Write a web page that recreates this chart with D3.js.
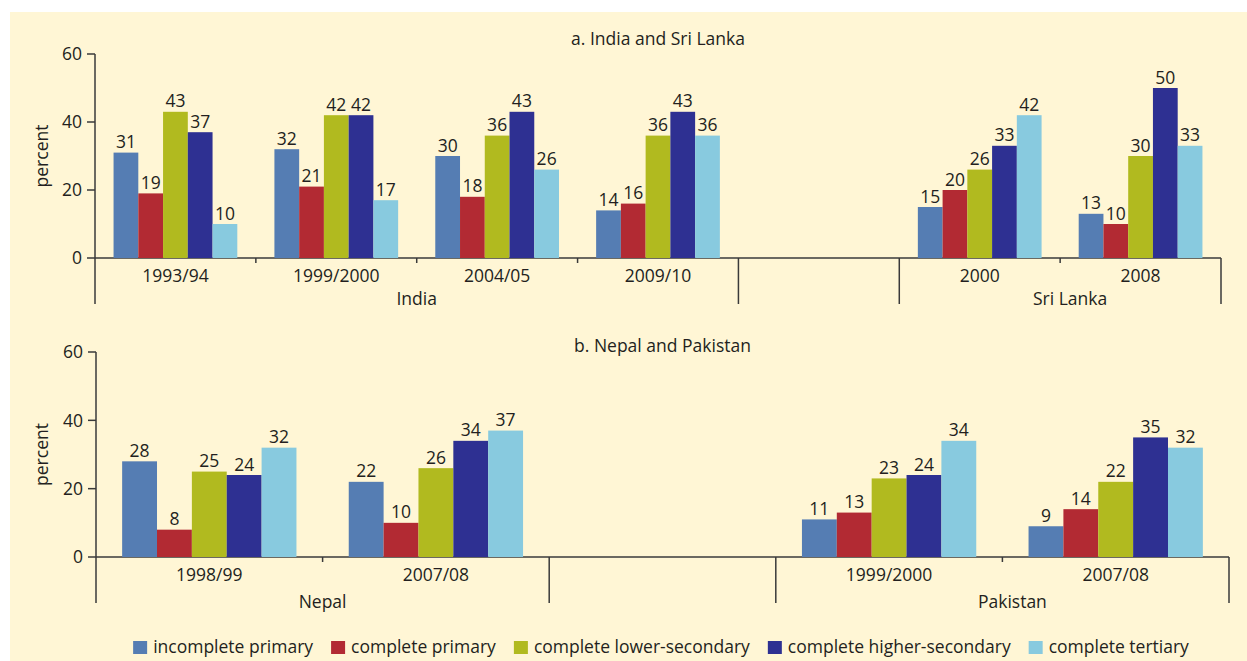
<!DOCTYPE html>
<html>
<head>
<meta charset="utf-8">
<script src="https://cdn.jsdelivr.net/npm/d3@7"></script>
<style>
  body { margin: 0; background: white; }
  text { font-family: "Open Sans", sans-serif; fill: #231F20; }
</style>
</head>
<body>
<svg id="chart" width="1247" height="661"></svg>
<script>
const series = ['incomplete primary', 'complete primary', 'complete lower-secondary', 'complete higher-secondary', 'complete tertiary']
const colors = ['#557DB3', '#B22A33', '#B1BA1F', '#2E3092', '#88CADF']
const yTicks = [0, 20, 40, 60]

const indiaYears = ['1993/94', '1999/2000', '2004/05', '2009/10']
const indiaValues = [[31, 19, 43, 37, 10], [32, 21, 42, 42, 17], [30, 18, 36, 43, 26], [14, 16, 36, 43, 36]]
const sriLankaYears = ['2000', '2008']
const sriLankaValues = [[15, 20, 26, 33, 42], [13, 10, 30, 50, 33]]

const nepalYears = ['1998/99', '2007/08']
const nepalValues = [[28, 8, 25, 24, 32], [22, 10, 26, 34, 37]]
const pakistanYears = ['1999/2000', '2007/08']
const pakistanValues = [[11, 13, 23, 24, 34], [9, 14, 22, 35, 32]]

const svg = d3.select('#chart')
svg.append('rect')
  .attr('x', 10).attr('y', 12)
  .attr('width', 1237).attr('height', 649)
  .attr('fill', '#FFF6D5')

const ink = '#3a3a3a'
const fs = '17.5px'

function drawPanel(opt) {
  let left = opt.countries[0], right = opt.countries[1]
  let slots = left.years.map(y => left.name + '|' + y)
    .concat(['gap'])
    .concat(right.years.map(y => right.name + '|' + y))
  let x0 = d3.scaleBand().domain(slots).range(opt.xRange)
  let x1 = d3.scaleBand().domain(series).range([0, x0.bandwidth()]).paddingOuter(0.75)
  let y = d3.scaleLinear().domain([0, 60]).range(opt.yRange)
  let g = svg.append('g')
  let y0 = y(0)

  // y axis
  g.append('line')
    .attr('x1', opt.xRange[0]).attr('x2', opt.xRange[0])
    .attr('y1', y(60)).attr('y2', y0 + opt.sepLen)
    .attr('stroke', ink).attr('stroke-width', 1.5)
  g.selectAll('.ytick')
    .data(yTicks)
    .join('line')
    .attr('x1', opt.xRange[0] - 8).attr('x2', opt.xRange[0])
    .attr('y1', d => y(d)).attr('y2', d => y(d))
    .attr('stroke', ink).attr('stroke-width', 1.5)
  g.selectAll('.ylab')
    .data(yTicks)
    .join('text')
    .attr('x', opt.xRange[0] - 13)
    .attr('y', d => y(d))
    .attr('dy', '0.36em')
    .attr('text-anchor', 'end')
    .style('font-size', fs)
    .text(d => d)
  g.append('text')
    .attr('transform', `translate(48, ${(y(0) + y(60)) / 2}) rotate(-90)`)
    .attr('text-anchor', 'middle')
    .style('font-size', fs)
    .text('percent')

  // x axis baseline
  g.append('line')
    .attr('x1', opt.xRange[0]).attr('x2', opt.xRange[1])
    .attr('y1', y0).attr('y2', y0)
    .attr('stroke', ink).attr('stroke-width', 1.5)

  // separators: long ones around countries, short ones between years
  let gapX = x0('gap')
  let longs = [gapX, gapX + x0.bandwidth(), opt.xRange[1]]
  g.selectAll('.sep')
    .data(longs)
    .join('line')
    .attr('x1', d => d).attr('x2', d => d)
    .attr('y1', y0).attr('y2', y0 + opt.sepLen)
    .attr('stroke', ink).attr('stroke-width', 1.5)
  let shorts = slots.filter((s, i) => i > 0 && s != 'gap' && slots[i - 1] != 'gap').map(s => x0(s))
  g.selectAll('.short')
    .data(shorts)
    .join('line')
    .attr('x1', d => d).attr('x2', d => d)
    .attr('y1', y0).attr('y2', y0 + 5)
    .attr('stroke', ink).attr('stroke-width', 1.5)

  // bars
  let groups = []
  opt.countries.forEach(c => c.years.forEach((yr, i) => groups.push({ key: c.name + '|' + yr, year: yr, values: c.values[i] })))
  let gg = g.selectAll('.grp')
    .data(groups)
    .join('g')
    .attr('transform', d => `translate(${x0(d.key)}, 0)`)
  gg.selectAll('rect')
    .data(d => d.values.map((v, i) => ({ s: series[i], v: v, i: i })))
    .join('rect')
    .attr('x', d => x1(d.s))
    .attr('y', d => y(d.v))
    .attr('width', x1.bandwidth())
    .attr('height', d => y0 - y(d.v))
    .attr('fill', d => colors[d.i])
  gg.selectAll('.val')
    .data(d => d.values.map((v, i) => ({ s: series[i], v: v })))
    .join('text')
    .attr('x', d => x1(d.s) + x1.bandwidth() / 2)
    .attr('y', d => y(d.v) - 4.5)
    .attr('text-anchor', 'middle')
    .style('font-size', fs)
    .text(d => d.v)
  gg.append('text')
    .attr('x', x0.bandwidth() / 2)
    .attr('y', y0 + opt.yearDy)
    .attr('text-anchor', 'middle')
    .style('font-size', fs)
    .text(d => d.year)

  // country labels
  let spanL = [opt.xRange[0], gapX]
  let spanR = [gapX + x0.bandwidth(), opt.xRange[1]]
  g.append('text')
    .attr('x', (spanL[0] + spanL[1]) / 2)
    .attr('y', y0 + opt.countryDy)
    .attr('text-anchor', 'middle')
    .style('font-size', fs)
    .text(left.name)
  g.append('text')
    .attr('x', (spanR[0] + spanR[1]) / 2 + 10)
    .attr('y', y0 + opt.countryDy)
    .attr('text-anchor', 'middle')
    .style('font-size', fs)
    .text(right.name)

  g.append('text')
    .attr('x', (opt.xRange[0] + opt.xRange[1]) / 2)
    .attr('y', opt.titleY)
    .attr('text-anchor', 'middle')
    .style('font-size', fs)
    .text(opt.title)
}

drawPanel({
  title: 'a. India and Sri Lanka',
  titleY: 45,
  xRange: [95, 1221],
  yRange: [258, 54],
  sepLen: 46,
  yearDy: 23.5,
  countryDy: 46.5,
  countries: [
    { name: 'India', years: indiaYears, values: indiaValues },
    { name: 'Sri Lanka', years: sriLankaYears, values: sriLankaValues }
  ]
})

drawPanel({
  title: 'b. Nepal and Pakistan',
  titleY: 352,
  xRange: [96, 1229],
  yRange: [557, 352],
  sepLen: 46,
  yearDy: 24,
  countryDy: 51,
  countries: [
    { name: 'Nepal', years: nepalYears, values: nepalValues },
    { name: 'Pakistan', years: pakistanYears, values: pakistanValues }
  ]
})

// legend, laid out from measured text widths and centred
let legend = svg.append('g')
let items = legend.selectAll('g')
  .data(series)
  .join('g')
items.append('rect')
  .attr('y', 641).attr('width', 14).attr('height', 13)
  .attr('fill', (d, i) => colors[i])
items.append('text')
  .attr('x', 20).attr('y', 653)
  .style('font-size', fs)
  .text(d => d)
let pos = 0
items.each(function () {
  let w = d3.select(this).select('text').node().getComputedTextLength()
  d3.select(this).attr('transform', `translate(${pos}, 0)`)
  pos += 20 + w + 18
})
let total = pos - 18
legend.attr('transform', `translate(${661 - total / 2}, 0)`)
</script>
</body>
</html>
